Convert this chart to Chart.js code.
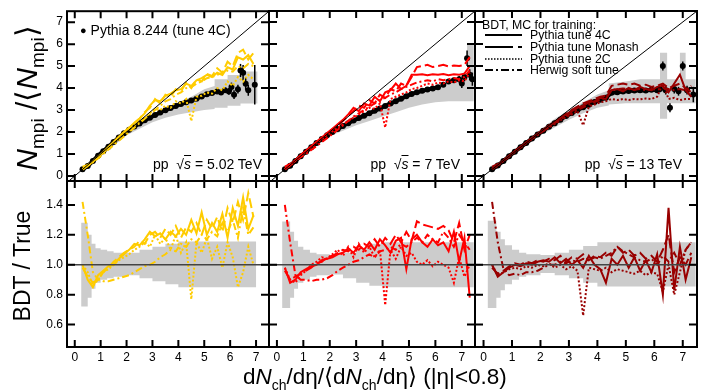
<!DOCTYPE html>
<html>
<head>
<meta charset="utf-8">
<script src="https://cdn.jsdelivr.net/npm/chart.js@4.4.1/dist/chart.umd.min.js"></script>
<style>
  body { margin: 0; background: #fff; }
  #wrap { position: relative; width: 706px; height: 391px; overflow: hidden;
          font-family: "Liberation Sans", Arial, sans-serif; color: #000; }
  #wrap canvas { position: absolute; left: 0; top: 0; }
  .lbl { position: absolute; white-space: nowrap; }
  .legrow { position: absolute; left: 484px; height: 12px; font-size: 12.3px; line-height: 12px; white-space: nowrap; }
  .legrow svg { position: absolute; left: 0; top: 4px; }
  .legrow span { position: absolute; left: 46px; top: 0; }
</style>
</head>
<body>
<div id="wrap">
  <canvas id="c502t" width="706" height="391"></canvas>
  <canvas id="c7t" width="706" height="391"></canvas>
  <canvas id="c13t" width="706" height="391"></canvas>
  <canvas id="c502b" width="706" height="391"></canvas>
  <canvas id="c7b" width="706" height="391"></canvas>
  <canvas id="c13b" width="706" height="391"></canvas>

  <div class="lbl" style="left:4px;top:17px;width:50px;height:162px;">
    <div style="position:absolute;left:50%;top:50%;transform:translate(-50%,-50%) rotate(-90deg);font-size:30px;white-space:nowrap;">
      <i>N</i><sub style="font-size:19px">mpi</sub> /⟨<i>N</i><sub style="font-size:19px">mpi</sub>⟩
    </div>
  </div>
  <div class="lbl" style="left:0px;top:205px;width:44px;height:122px;">
    <div style="position:absolute;left:50%;top:50%;transform:translate(-50%,-50%) rotate(-90deg);font-size:23px;white-space:nowrap;">BDT / True</div>
  </div>
  <div class="lbl" style="left:243px;top:363px;font-size:22.5px;">d<i>N</i><sub style="font-size:14px">ch</sub>/dη/⟨d<i>N</i><sub style="font-size:14px">ch</sub>/dη⟩ (|η|&lt;0.8)</div>

  <div class="lbl" style="left:80px;top:22px;font-size:14px;"><span style="font-size:11px;position:relative;top:-1px;">●</span> Pythia 8.244 (tune 4C)</div>
  <div class="lbl" style="right:444px;top:156px;font-size:14px;">pp&nbsp; √<i style="text-decoration:overline">s</i> = 5.02 TeV</div>
  <div class="lbl" style="right:246px;top:156px;font-size:14px;">pp&nbsp; √<i style="text-decoration:overline">s</i> = 7 TeV</div>
  <div class="lbl" style="right:24px;top:156px;font-size:14px;">pp&nbsp; √<i style="text-decoration:overline">s</i> = 13 TeV</div>

  <div class="lbl" style="left:482px;top:18px;font-size:12.3px;">BDT, MC for training:</div>
  <div class="legrow" style="top:29px;"><svg width="40" height="4"><line x1="1" y1="2" x2="38" y2="2" stroke="#000" stroke-width="2"/></svg><span>Pythia tune 4C</span></div>
  <div class="legrow" style="top:41px;"><svg width="40" height="4"><line x1="1" y1="2" x2="38" y2="2" stroke="#000" stroke-width="2" stroke-dasharray="28 5 5 40"/></svg><span>Pythia tune Monash</span></div>
  <div class="legrow" style="top:53px;"><svg width="40" height="4"><line x1="1" y1="2" x2="38" y2="2" stroke="#000" stroke-width="1.5" stroke-dasharray="1.5 1.5"/></svg><span>Pythia tune 2C</span></div>
  <div class="legrow" style="top:64px;"><svg width="40" height="4"><line x1="1" y1="2" x2="38" y2="2" stroke="#000" stroke-width="2" stroke-dasharray="8 3 2 3"/></svg><span>Herwig soft tune</span></div>
</div>

<script>
// ---------- tick labels ----------
const xTickVals = [0, 1, 2, 3, 4, 5, 6, 7];
const nmpiTickVals = [0, 1, 2, 3, 4, 5, 6, 7];
const ratioTickVals = [0.6, 0.8, 1.0, 1.2, 1.4];

// ---------- pp 5.02 TeV ----------
const xs502 = [0.3,0.5,0.7,0.9,1.1,1.3,1.5,1.7,1.9,2.1,2.3,2.5,2.7,2.9,3.1,3.3,3.5,3.7,3.9,4.1,4.3,4.5,4.7,4.9,5.1,5.3,5.5,5.7,5.9,6.1,6.3,6.5,6.7,6.9];
const truthX502 = [0.3,0.5,0.7,0.9,1.1,1.3,1.5,1.7,1.9,2.1,2.3,2.5,2.7,2.9,3.1,3.3,3.5,3.7,3.9,4.1,4.3,4.5,4.7,4.9,5.1,5.3,5.5];
const truthY502 = [0.30,0.45,0.68,0.92,1.13,1.33,1.55,1.75,1.94,2.10,2.25,2.39,2.53,2.65,2.77,2.89,2.99,3.09,3.19,3.27,3.35,3.43,3.52,3.62,3.72,3.78,3.84];
const tailX502 = [5.65,5.8,5.95,6.05,6.15,6.3,6.4,6.5,6.6,6.7,6.95];
const tailY502 = [3.8,3.9,3.85,4.05,3.7,3.95,4.8,4.7,4.2,3.9,4.15];
const tailErr502 = [0.1,0.12,0.15,0.2,0.2,0.2,0.3,0.35,0.3,0.25,0.9];
const nmpi502_4C     = [0.30,0.47,0.66,0.87,1.08,1.32,1.55,1.78,2.0,2.2,2.42,2.62,2.85,3.2,3.45,3.4,3.65,3.75,3.9,3.95,4.2,4.1,4.35,4.45,4.6,4.5,4.7,4.6,4.95,4.85,5.4,5.3,5.5,5.1];
const nmpi502_Monash = [0.30,0.46,0.65,0.86,1.07,1.3,1.54,1.76,1.98,2.18,2.4,2.6,2.9,3.1,3.5,3.3,3.7,3.6,3.95,3.85,4.25,4.0,4.4,4.3,4.65,4.55,4.9,4.7,5.2,5.0,5.6,5.75,5.3,5.6];
const nmpi502_2C     = [0.30,0.46,0.64,0.85,1.05,1.28,1.5,1.72,1.92,2.12,2.3,2.48,2.65,2.85,3.05,3.0,3.2,3.1,3.4,3.3,3.5,2.5,3.6,3.65,3.8,3.75,4.0,3.9,4.3,4.1,4.5,4.3,4.6,4.4];
const nmpi502_Herwig = [0.42,0.5,0.62,0.8,1.0,1.2,1.4,1.6,1.8,2.0,2.2,2.4,2.6,2.8,3.0,3.2,3.4,3.5,3.7,3.8,4.0,4.05,4.2,4.3,4.45,4.5,4.6,4.7,4.8,4.75,5.0,4.9,5.1,5.0];
// systematic band around the truth: outline x, upper and lower edge
const bandX502t  = [0.25,1.0,2.0,2.5,3.0,3.5,4.0,4.5,5.0,5.4,5.4,5.9,5.9,6.4,6.4,7.05];
const bandHi502t = [0.35,1.1,2.1,2.45,2.8,3.1,3.35,3.6,3.95,4.1,4.4,4.4,4.6,4.6,4.75,4.75];
const bandLo502t = [0.2,0.9,1.85,2.15,2.45,2.65,2.8,2.9,3.0,3.05,3.1,3.1,3.2,3.2,3.3,3.3];
const ratio502_4C     = [1.0,0.9,0.85,0.93,0.96,0.99,1.0,1.04,1.07,1.1,1.14,1.13,1.17,1.22,1.19,1.21,1.17,1.22,1.19,1.24,1.2,1.3,1.21,1.35,1.2,1.28,1.22,1.34,1.18,1.38,1.26,1.45,1.24,1.33];
const ratio502_Monash = [0.98,0.92,0.88,0.9,0.95,0.98,1.02,1.05,1.08,1.1,1.12,1.16,1.14,1.2,1.22,1.18,1.24,1.2,1.26,1.18,1.25,1.22,1.28,1.2,1.3,1.24,1.32,1.22,1.38,1.28,1.42,1.3,1.48,1.32];
const ratio502_2C     = [1.0,0.95,0.86,0.9,0.95,0.97,1.0,1.03,1.05,1.07,1.1,1.12,1.15,1.12,1.2,1.14,1.18,1.1,1.2,1.08,1.15,0.77,1.15,1.08,1.18,1.04,1.12,0.98,1.15,1.05,0.85,0.95,1.12,1.0];
const ratio502_Herwig = [1.42,1.2,0.95,0.9,0.89,0.89,0.9,0.91,0.92,0.93,0.95,0.97,0.99,1.0,1.02,1.05,1.07,1.1,1.09,1.14,1.12,1.17,1.15,1.2,1.17,1.22,1.19,1.28,1.22,1.3,1.18,1.38,1.2,1.25];
// ratio band bins: edges (n+1) and upper / lower values (n)
const bandEdges502b = [0.25,0.5,0.65,0.8,1.0,1.25,1.5,2.0,2.5,3.0,3.5,4.0,4.5,5.0,5.5,6.0,6.5,7.0];
const bandHi502b = [1.28,1.2,1.14,1.11,1.1,1.09,1.08,1.08,1.1,1.12,1.14,1.155,1.155,1.155,1.155,1.155,1.155];
const bandLo502b = [0.72,0.78,0.84,0.88,0.9,0.91,0.92,0.93,0.91,0.89,0.87,0.85,0.85,0.85,0.85,0.85,0.85];

// ---------- pp 7 TeV ----------
const xs7 = [0.3,0.5,0.7,0.9,1.1,1.3,1.5,1.7,1.9,2.1,2.3,2.5,2.7,2.9,3.1,3.3,3.5,3.7,3.9,4.1,4.3,4.5,4.7,4.9,5.1,5.3,5.5,5.7,5.9,6.1,6.3,6.5,6.7,6.9,7.1,7.3];
const truthX7 = [0.3,0.5,0.7,0.9,1.1,1.3,1.5,1.7,1.9,2.1,2.3,2.5,2.7,2.9,3.1,3.3,3.5,3.7,3.9,4.1,4.3,4.5,4.7,4.9,5.1,5.3,5.5,5.7,5.9,6.1];
const truthY7 = [0.3,0.46,0.68,0.9,1.1,1.3,1.5,1.68,1.85,2.0,2.13,2.27,2.4,2.52,2.63,2.74,2.85,2.96,3.07,3.18,3.29,3.4,3.51,3.62,3.73,3.8,3.87,3.93,3.98,4.03];
const tailX7 = [6.3,6.5,6.7,6.9,7.0,7.1,7.2,7.3,7.4];
const tailY7 = [4.15,4.3,4.35,4.4,4.2,4.5,5.35,4.6,4.4];
const tailErr7 = [0.1,0.1,0.12,0.15,0.2,0.2,0.35,0.25,0.3];
const nmpi7_4C     = [0.32,0.5,0.72,0.95,1.15,1.35,1.55,1.75,1.95,2.15,2.35,2.55,2.8,3.1,2.95,3.3,3.2,3.6,3.4,3.8,3.9,4.2,3.95,4.1,4.6,4.6,4.62,4.58,4.62,4.6,4.63,4.58,4.62,4.6,4.65,5.0];
const nmpi7_Monash = [0.31,0.48,0.7,0.93,1.13,1.33,1.53,1.73,1.93,2.12,2.3,2.5,2.75,2.95,3.2,3.1,3.45,3.3,3.7,3.55,3.95,3.85,4.2,4.1,4.5,4.95,5.0,5.05,4.95,5.0,5.05,4.98,5.02,5.0,5.05,5.4];
const nmpi7_2C     = [0.3,0.47,0.69,0.9,1.1,1.3,1.5,1.68,1.86,2.02,2.18,2.34,2.5,2.65,2.8,2.95,3.1,3.05,3.3,2.2,3.5,3.6,3.7,3.8,3.95,4.0,4.1,4.2,4.15,4.25,4.2,4.3,4.25,4.35,4.3,4.7];
const nmpi7_Herwig = [0.42,0.55,0.68,0.85,1.0,1.18,1.36,1.54,1.72,1.9,2.1,2.3,2.5,2.7,2.85,3.0,3.15,3.3,3.45,3.55,3.7,3.8,3.95,4.05,4.15,4.25,4.3,4.35,4.3,4.4,4.35,4.4,4.45,4.4,4.5,4.8];
const bandX7t  = [0.2,1.0,2.0,2.5,3.0,3.5,4.0,4.5,5.0,5.5,6.0,6.5,6.5,7.0,7.0,7.2,7.2,7.45];
const bandHi7t = [0.3,1.1,2.05,2.35,2.68,2.95,3.25,3.55,3.8,3.95,4.1,4.2,4.4,4.4,4.55,4.55,6.0,6.0];
const bandLo7t = [0.2,0.9,1.8,2.05,2.3,2.5,2.7,2.9,3.1,3.25,3.35,3.4,3.4,3.4,3.4,3.4,3.4,3.4];
const ratio7_4C     = [0.98,0.88,0.9,0.95,0.97,0.99,1.0,1.03,1.04,1.05,1.07,1.08,1.11,1.08,1.13,1.1,1.15,1.1,1.17,1.13,1.08,1.16,1.18,0.97,1.17,1.2,1.15,1.12,1.17,1.13,1.15,1.09,1.22,1.02,1.18,0.78];
const ratio7_Monash = [0.96,0.9,0.92,0.94,0.96,0.98,1.01,1.02,1.05,1.06,1.08,1.1,1.09,1.12,1.1,1.14,1.12,1.17,1.12,1.18,1.14,1.2,1.15,1.22,1.16,1.29,1.27,1.26,1.25,1.24,1.26,1.23,1.15,1.28,1.1,1.2];
const ratio7_2C     = [0.98,0.9,0.88,0.93,0.96,1.0,1.02,1.05,1.04,1.07,1.1,1.06,1.12,1.05,1.14,1.08,1.12,1.05,1.1,0.73,1.1,1.04,1.12,1.06,1.08,1.02,1.0,1.03,0.99,1.02,1.0,0.98,0.88,1.05,0.92,1.0];
const ratio7_Herwig = [1.4,1.15,0.93,0.9,0.9,0.89,0.9,0.9,0.91,0.93,0.96,0.98,1.0,1.02,1.03,1.05,1.07,1.05,1.09,1.1,1.12,1.1,1.14,1.12,1.15,1.18,1.15,1.2,1.17,1.15,1.22,1.18,1.12,1.2,1.15,1.1];
const bandEdges7b = [0.2,0.5,0.65,0.8,1.0,1.25,1.5,2.0,2.5,3.0,3.5,4.0,4.5,5.0,5.5,6.0,6.5,7.0,7.45];
const bandHi7b = [1.29,1.22,1.16,1.12,1.1,1.08,1.07,1.065,1.08,1.11,1.14,1.15,1.15,1.15,1.15,1.15,1.15,1.15];
const bandLo7b = [0.71,0.78,0.84,0.88,0.9,0.92,0.93,0.935,0.91,0.88,0.86,0.85,0.85,0.85,0.85,0.85,0.85,0.85];

// ---------- pp 13 TeV ----------
const xs13 = [0.3,0.5,0.7,0.9,1.1,1.3,1.5,1.7,1.9,2.1,2.3,2.5,2.7,2.9,3.1,3.3,3.5,3.7,3.9,4.1,4.3,4.5,4.7,4.9,5.1,5.3,5.5,5.7,5.9,6.1,6.3,6.5,6.7,6.9,7.1,7.3];
const truthX13 = [0.3,0.5,0.7,0.9,1.1,1.3,1.5,1.7,1.9,2.1,2.3,2.5,2.7,2.9,3.1,3.3,3.5,3.7,3.9,4.1,4.3,4.5,4.7,4.9,5.1,5.3,5.5,5.7,5.9,6.1];
const truthY13 = [0.3,0.47,0.68,0.9,1.1,1.3,1.5,1.7,1.88,2.06,2.24,2.4,2.56,2.72,2.86,3.0,3.12,3.24,3.36,3.46,3.56,3.78,3.8,3.84,3.86,3.88,3.9,3.88,3.92,3.9];
const tailX13 = [6.2,6.3,6.4,6.55,6.7,6.85,7.0,7.15,7.37];
const tailY13 = [3.95,5.0,3.9,3.1,3.95,3.85,5.0,3.9,3.7];
const tailErr13 = [0.15,0.2,0.2,0.2,0.2,0.2,0.2,0.2,0.35];
const nmpi13_4C     = [0.32,0.5,0.7,0.92,1.12,1.32,1.52,1.72,1.92,2.1,2.3,2.45,2.65,2.8,2.95,3.1,3.2,3.35,3.4,3.55,3.5,3.9,3.95,3.85,4.0,3.9,4.05,3.95,3.9,4.05,4.1,3.8,4.2,4.6,3.9,3.6];
const nmpi13_Monash = [0.31,0.49,0.7,0.92,1.12,1.32,1.52,1.72,1.9,2.1,2.28,2.46,2.64,2.82,3.0,3.15,3.3,3.4,3.5,3.6,3.65,4.1,4.15,4.2,4.15,4.2,4.1,4.15,4.05,4.1,4.2,4.0,4.1,4.2,4.0,3.8];
const nmpi13_2C     = [0.3,0.47,0.68,0.9,1.1,1.3,1.48,1.68,1.86,2.04,2.2,2.36,2.52,2.68,2.8,2.95,2.3,3.15,3.25,3.35,3.4,3.5,3.45,3.5,3.45,3.5,3.48,3.52,3.5,3.6,4.2,3.5,3.55,3.45,3.5,3.5];
const nmpi13_Herwig = [0.42,0.55,0.68,0.88,1.08,1.28,1.48,1.68,1.86,2.04,2.22,2.4,2.56,2.72,2.86,3.0,3.12,3.24,3.36,3.46,3.56,3.9,3.95,3.98,3.95,3.92,3.95,3.9,3.95,3.92,4.0,3.95,3.9,3.95,3.9,4.1];
const bandX13t  = [0.2,1.0,2.0,2.5,3.0,3.5,4.0,4.4,4.4,5.0,5.5,6.2,6.2,6.45,6.45,6.9,6.9,7.1,7.1,7.45];
const bandHi13t = [0.3,1.1,2.1,2.6,3.0,3.35,3.7,3.9,4.2,4.3,4.4,4.4,5.6,5.6,4.4,4.4,5.6,5.6,4.4,4.4];
const bandLo13t = [0.2,0.9,1.85,2.2,2.55,2.85,3.1,3.2,3.25,3.3,3.3,3.3,2.6,2.6,3.3,3.3,3.3,3.3,3.3,3.3];
const ratio13_4C     = [1.0,0.92,0.95,0.98,1.0,0.99,1.01,1.0,1.02,1.03,1.02,1.05,1.01,1.04,1.0,1.03,0.98,1.06,1.0,0.97,0.88,1.04,1.0,1.06,0.98,1.05,0.96,1.03,0.95,1.07,0.8,1.38,0.83,1.12,0.9,1.05];
const ratio13_Monash = [0.98,0.94,0.96,0.99,1.01,1.0,1.02,1.01,1.03,1.02,1.04,1.03,1.06,1.02,1.05,1.04,1.07,1.03,1.06,1.05,1.08,1.06,1.12,1.08,1.1,1.06,1.08,1.04,1.06,1.02,1.1,1.2,0.95,1.05,1.0,1.08];
const ratio13_2C     = [1.0,0.93,0.95,0.97,0.98,0.97,0.99,0.98,1.0,0.99,1.01,0.98,1.0,0.97,0.99,0.96,0.66,0.98,0.97,0.96,0.98,0.95,0.97,0.96,0.95,0.94,0.96,0.93,0.95,0.94,0.82,1.0,0.8,0.95,1.1,1.15];
const ratio13_Herwig = [1.42,1.15,0.97,0.93,0.94,0.93,0.95,0.95,0.96,0.98,1.0,1.0,1.02,1.01,1.03,1.02,1.04,1.03,1.05,1.04,1.06,1.08,1.12,1.09,1.07,1.05,1.03,1.02,1.04,1.0,1.06,1.02,1.08,1.0,1.1,1.15];
const bandEdges13b = [0.15,0.45,0.6,0.75,1.0,1.25,1.5,2.0,2.5,3.0,3.5,4.0,4.5,5.0,5.5,6.0,6.5,7.0,7.45];
const bandHi13b = [1.295,1.22,1.17,1.13,1.1,1.08,1.07,1.065,1.08,1.1,1.125,1.15,1.15,1.15,1.15,1.15,1.15,1.15];
const bandLo13b = [0.71,0.78,0.83,0.87,0.9,0.92,0.93,0.945,0.93,0.91,0.88,0.855,0.855,0.855,0.855,0.855,0.855,0.855];

// ---------- styles ----------
const FONT = "'Liberation Sans', Arial, sans-serif";
const BAND = '#cccccc';
const YEL = '#ffcc00', RED = '#ff0000', DRED = '#990000';
const tuneDash = { c4: [], monash: [10, 4], c2: [2, 2], herwig: [7, 3, 2, 3] };

const pts = (xs, ys) => xs.map((x, i) => ({ x: x, y: ys[i] }));
// histogram outline: each bin gives two points, at its lower and upper edge
const binPts = (edges, vals) => vals.flatMap((v, i) => [{ x: edges[i], y: v }, { x: edges[i + 1], y: v }]);

function tuneLine(xs, ys, color, dash) {
  return { data: pts(xs, ys), showLine: true, borderColor: color, borderWidth: 2,
           borderDash: dash, pointRadius: 0, fill: false, order: 1 };
}
function truthPts(xs, ys, errs, joined) {
  return { data: pts(xs, ys), showLine: joined, borderColor: '#000', borderWidth: 4,
           pointRadius: 3, pointBorderWidth: 0, pointBackgroundColor: '#000', errs: errs, order: 2 };
}
// closed grey shape: upper edge left to right, then lower edge back
function shape(upper, lower) {
  return { data: upper.concat(lower.reverse()),
           showLine: true, borderWidth: 1, borderColor: 'rgba(0,0,0,0)', borderDash: [4, 0],
           pointRadius: 0, backgroundColor: BAND, fill: 'shape', order: 3 };
}
const band = (xs, hi, lo) => shape(pts(xs, hi), pts(xs, lo));
const binBand = (edges, hi, lo) => shape(binPts(edges, hi), binPts(edges, lo));

// error bars on the truth points
const errorBars = {
  id: 'errorBars',
  afterDatasetDraw(chart, args) {
    const ds = chart.data.datasets[args.index];
    if (!ds.errs) return;
    const { ctx, scales: { x, y } } = chart;
    ctx.save();
    ctx.strokeStyle = '#000';
    ctx.lineWidth = 1.5;
    ds.data.forEach((p, i) => {
      const px = x.getPixelForValue(p.x);
      ctx.beginPath();
      ctx.moveTo(px, y.getPixelForValue(p.y - ds.errs[i]));
      ctx.lineTo(px, y.getPixelForValue(p.y + ds.errs[i]));
      ctx.stroke();
    });
    ctx.restore();
  }
};

// frame with inward ticks, diagonal y=x, line at ratio 1
const frame = {
  id: 'frame',
  afterDatasetsDraw(chart, args, opts) {
    const { ctx, chartArea: a, scales: { x, y } } = chart;
    ctx.save();
    ctx.beginPath();
    ctx.rect(a.left, a.top, a.right - a.left, a.bottom - a.top);
    ctx.clip();
    if (opts.diagonal) {
      const lo = Math.max(x.min, y.min), hi = Math.min(x.max, y.max);
      ctx.strokeStyle = '#000';
      ctx.lineWidth = 1;
      ctx.beginPath();
      ctx.moveTo(x.getPixelForValue(lo), y.getPixelForValue(lo));
      ctx.lineTo(x.getPixelForValue(hi), y.getPixelForValue(hi));
      ctx.stroke();
    }
    if (opts.unity) {
      const py = y.getPixelForValue(1);
      ctx.strokeStyle = '#444';
      ctx.lineWidth = 1.5;
      ctx.beginPath();
      ctx.moveTo(a.left, py);
      ctx.lineTo(a.right, py);
      ctx.stroke();
    }
    ctx.restore();

    ctx.save();
    ctx.strokeStyle = '#000';
    ctx.lineWidth = 2;
    ctx.strokeRect(a.left, a.top, a.right - a.left, a.bottom - a.top);
    ctx.beginPath();
    x.ticks.forEach(t => {
      const px = x.getPixelForValue(t.value);
      ctx.moveTo(px, a.bottom); ctx.lineTo(px, a.bottom - 7);
      ctx.moveTo(px, a.top);    ctx.lineTo(px, a.top + 7);
    });
    y.ticks.forEach(t => {
      const py = y.getPixelForValue(t.value);
      ctx.moveTo(a.left, py);  ctx.lineTo(a.left + 8, py);
      ctx.moveTo(a.right, py); ctx.lineTo(a.right - 8, py);
    });
    ctx.stroke();
    ctx.restore();
  }
};

const colLeft = [67, 269, 475], colRight = [269, 475, 697];
const rowTop = [11, 181], rowBottom = [181, 347];

function makePanel(id, col, row, datasets) {
  const showY = col === 0, showX = row === 1;
  const yTicks = row === 0 ? nmpiTickVals : ratioTickVals;
  new Chart(document.getElementById(id), {
    type: 'scatter',
    data: { datasets: datasets },
    options: {
      responsive: false, animation: false, devicePixelRatio: 1,
      layout: { padding: {
        left: showY ? 0 : colLeft[col],
        right: 706 - colRight[col],
        top: rowTop[row],
        bottom: showX ? 0 : 391 - rowBottom[row]
      } },
      scales: {
        x: {
          type: 'linear', min: -0.3, max: 7.5, display: showX,
          grid: { display: false, drawTicks: false }, border: { display: false },
          ticks: { font: { family: FONT, size: 12 }, color: '#000', padding: 3, maxRotation: 0 },
          afterBuildTicks: s => { s.ticks = xTickVals.map(v => ({ value: v })); },
          afterFit: s => { if (showX) s.height = 391 - rowBottom[row]; }
        },
        y: {
          type: 'linear', display: showY,
          min: row === 0 ? -0.23 : 0.45, max: row === 0 ? 7.5 : 1.56,
          grid: { display: false, drawTicks: false }, border: { display: false },
          ticks: { font: { family: FONT, size: 12 }, color: '#000', padding: 4 },
          afterBuildTicks: s => { s.ticks = yTicks.map(v => ({ value: v })); },
          afterFit: s => { if (showY) s.width = colLeft[0]; }
        }
      },
      plugins: {
        legend: { display: false }, tooltip: { enabled: false },
        frame: { diagonal: row === 0, unity: row === 1 }
      }
    },
    plugins: [errorBars, frame]
  });
}

makePanel('c502t', 0, 0, [
  tuneLine(xs502, nmpi502_2C, YEL, tuneDash.c2),
  tuneLine(xs502, nmpi502_Herwig, YEL, tuneDash.herwig),
  tuneLine(xs502, nmpi502_Monash, YEL, tuneDash.monash),
  tuneLine(xs502, nmpi502_4C, YEL, tuneDash.c4),
  truthPts(truthX502, truthY502, null, true),
  truthPts(tailX502, tailY502, tailErr502, false),
  band(bandX502t, bandHi502t, bandLo502t)
]);
makePanel('c7t', 1, 0, [
  tuneLine(xs7, nmpi7_2C, RED, tuneDash.c2),
  tuneLine(xs7, nmpi7_Herwig, RED, tuneDash.herwig),
  tuneLine(xs7, nmpi7_Monash, RED, tuneDash.monash),
  tuneLine(xs7, nmpi7_4C, RED, tuneDash.c4),
  truthPts(truthX7, truthY7, null, true),
  truthPts(tailX7, tailY7, tailErr7, false),
  band(bandX7t, bandHi7t, bandLo7t)
]);
makePanel('c13t', 2, 0, [
  tuneLine(xs13, nmpi13_2C, DRED, tuneDash.c2),
  tuneLine(xs13, nmpi13_Herwig, DRED, tuneDash.herwig),
  tuneLine(xs13, nmpi13_Monash, DRED, tuneDash.monash),
  tuneLine(xs13, nmpi13_4C, DRED, tuneDash.c4),
  truthPts(truthX13, truthY13, null, true),
  truthPts(tailX13, tailY13, tailErr13, false),
  band(bandX13t, bandHi13t, bandLo13t)
]);
makePanel('c502b', 0, 1, [
  tuneLine(xs502, ratio502_2C, YEL, tuneDash.c2),
  tuneLine(xs502, ratio502_Herwig, YEL, tuneDash.herwig),
  tuneLine(xs502, ratio502_Monash, YEL, tuneDash.monash),
  tuneLine(xs502, ratio502_4C, YEL, tuneDash.c4),
  binBand(bandEdges502b, bandHi502b, bandLo502b)
]);
makePanel('c7b', 1, 1, [
  tuneLine(xs7, ratio7_2C, RED, tuneDash.c2),
  tuneLine(xs7, ratio7_Herwig, RED, tuneDash.herwig),
  tuneLine(xs7, ratio7_Monash, RED, tuneDash.monash),
  tuneLine(xs7, ratio7_4C, RED, tuneDash.c4),
  binBand(bandEdges7b, bandHi7b, bandLo7b)
]);
makePanel('c13b', 2, 1, [
  tuneLine(xs13, ratio13_2C, DRED, tuneDash.c2),
  tuneLine(xs13, ratio13_Herwig, DRED, tuneDash.herwig),
  tuneLine(xs13, ratio13_Monash, DRED, tuneDash.monash),
  tuneLine(xs13, ratio13_4C, DRED, tuneDash.c4),
  binBand(bandEdges13b, bandHi13b, bandLo13b)
]);
</script>
</body>
</html>
